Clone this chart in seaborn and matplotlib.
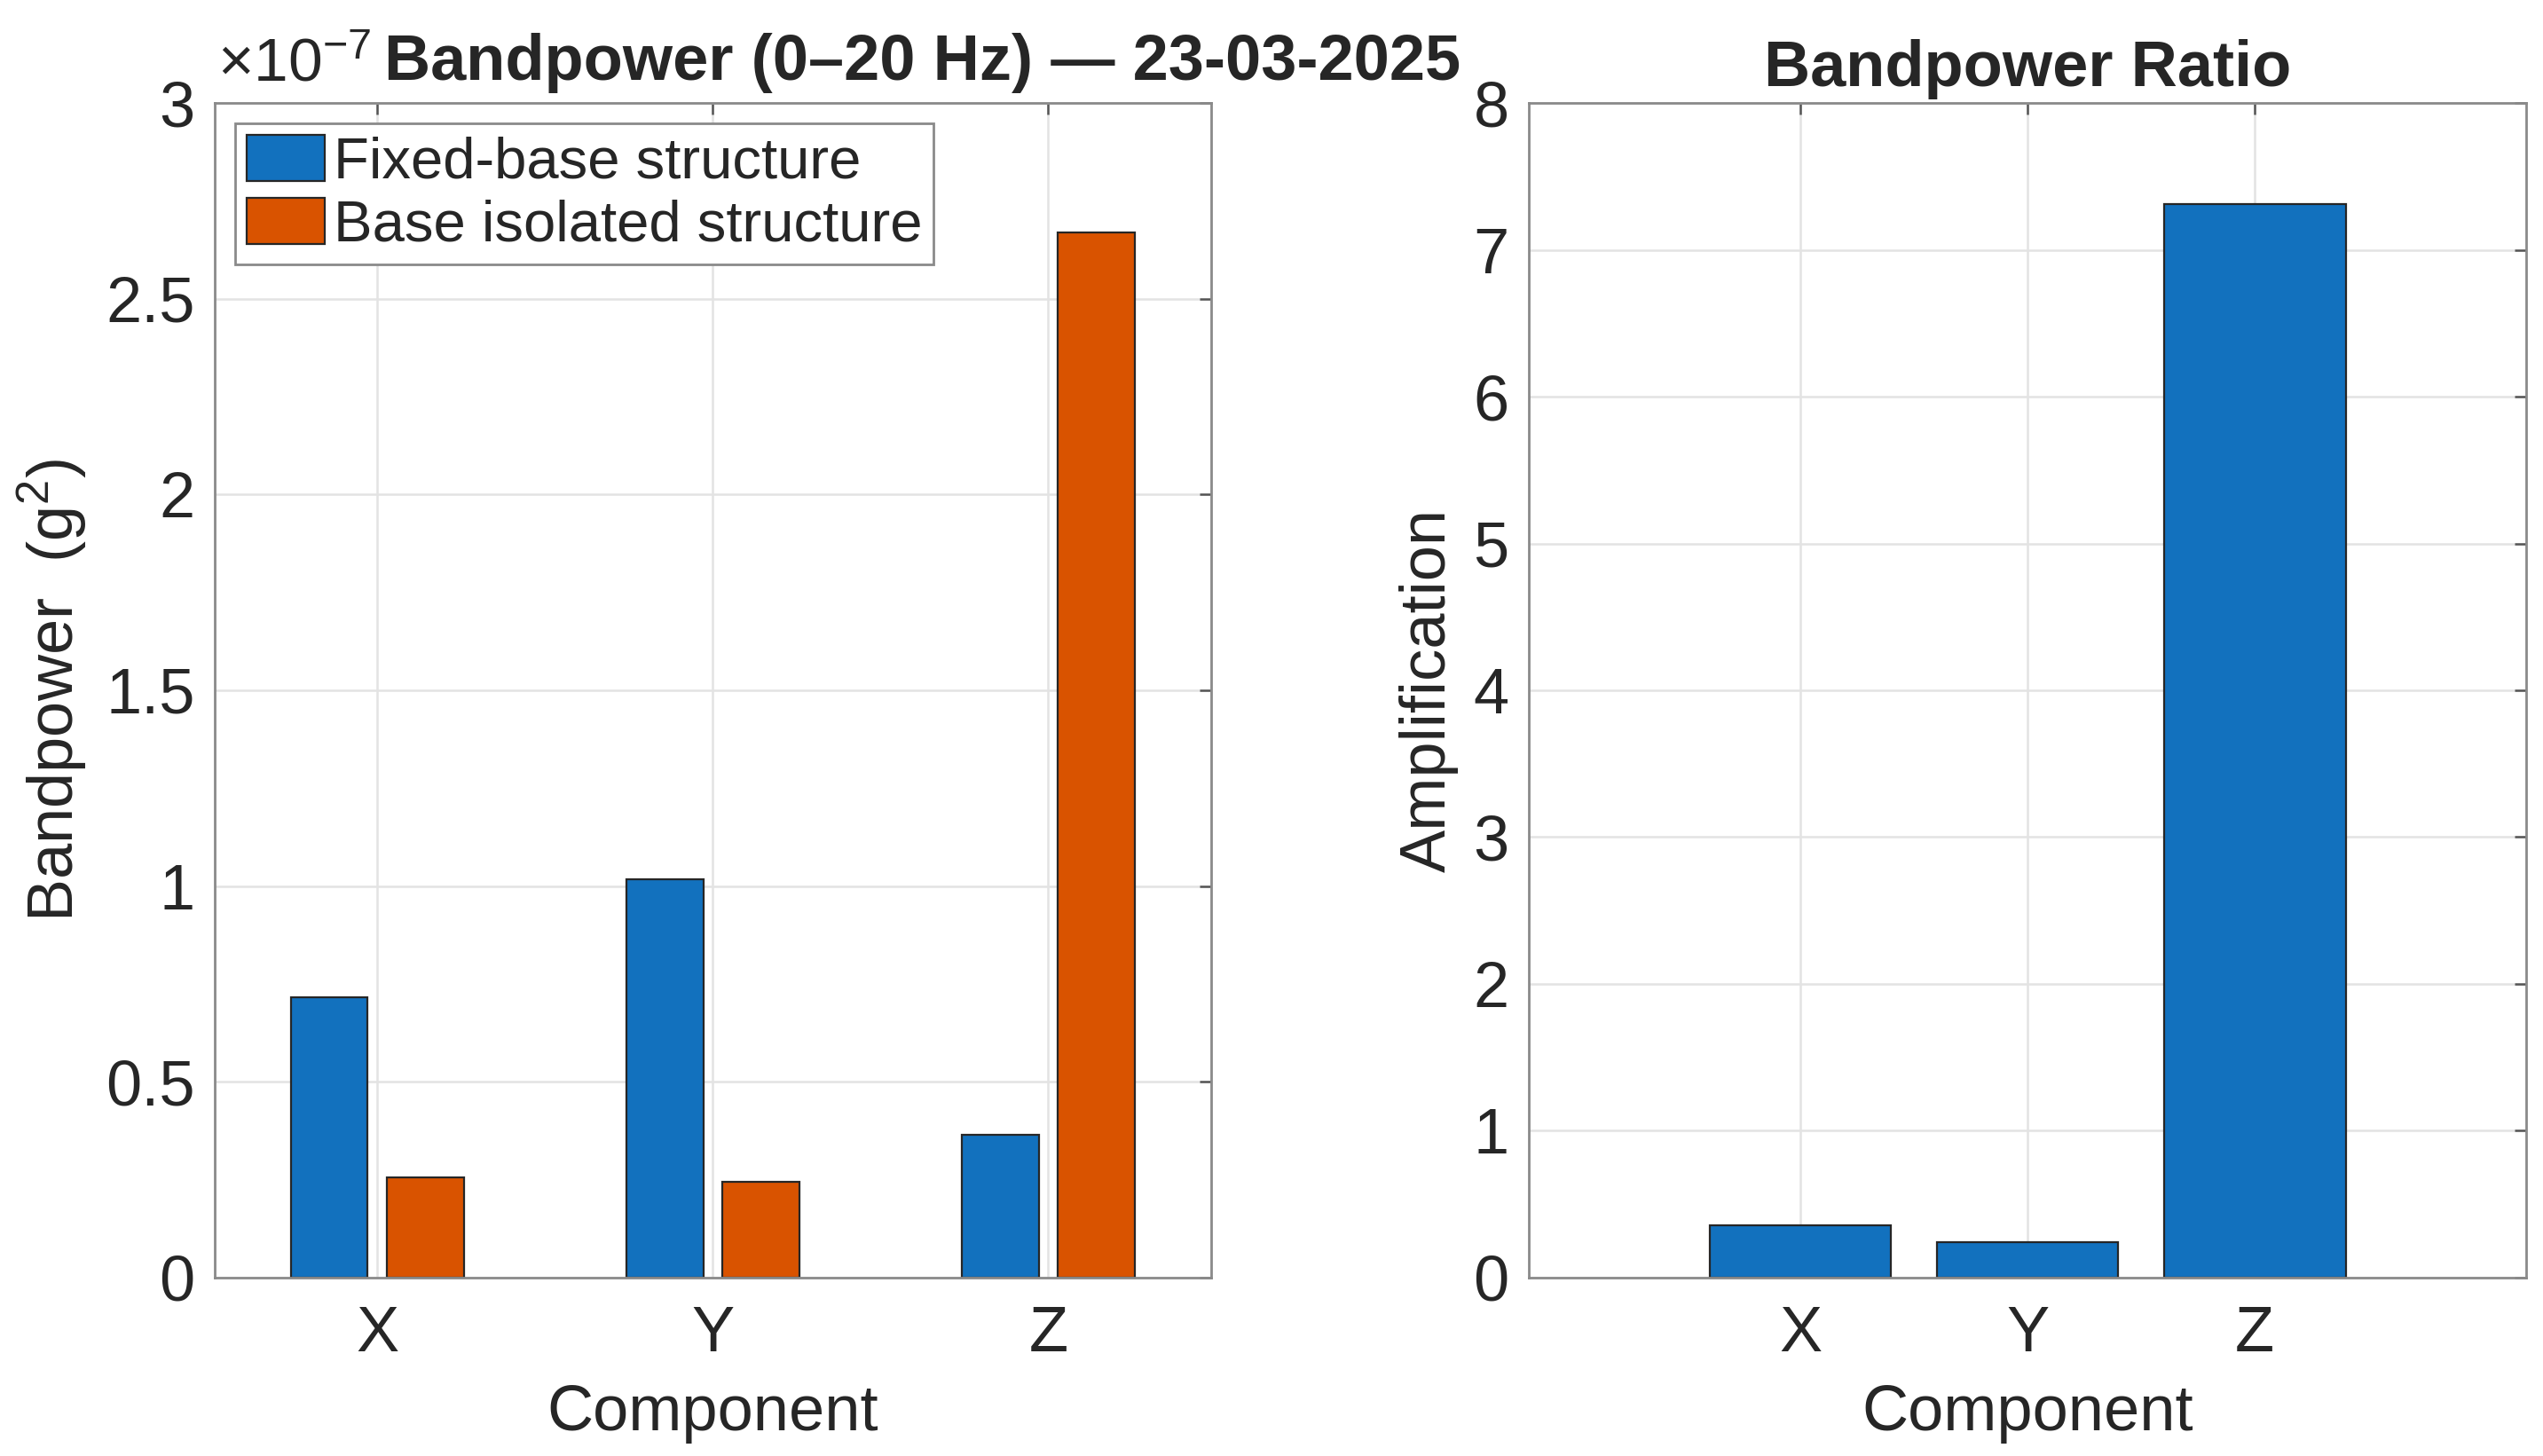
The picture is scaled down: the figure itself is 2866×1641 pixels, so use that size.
import matplotlib
matplotlib.use("Agg")
import matplotlib.pyplot as plt
import seaborn as sns
import pandas as pd
from matplotlib.patches import Patch
from matplotlib.ticker import FuncFormatter, MultipleLocator

components = ["X", "Y", "Z"]
fixed_base = [0.717e-7, 1.018e-7, 0.365e-7]
base_isolated = [0.257e-7, 0.244e-7, 2.669e-7]
ratio = [0.358, 0.240, 7.31]
series_names = ["Fixed-base structure", "Base isolated structure"]

BLUE = "#1271BE"
ORANGE = "#D95300"
TEXT = "#262626"
SPINE = "#8a8a8a"

sns.set_style("white")
plt.rcParams["font.family"] = ["Liberation Sans", "DejaVu Sans"]
plt.rcParams["mathtext.fontset"] = "custom"
plt.rcParams["mathtext.rm"] = "Liberation Sans"
plt.rcParams["mathtext.it"] = "Liberation Sans:italic"
plt.rcParams["mathtext.bf"] = "Liberation Sans:bold"

df = pd.DataFrame({
    "Component": components * 2,
    "Bandpower": fixed_base + base_isolated,
    "Structure": [series_names[0]] * 3 + [series_names[1]] * 3,
})
df_ratio = pd.DataFrame({"Component": components, "Ratio": ratio})

fig = plt.figure(figsize=(14.33, 8.205), dpi=200)
ax1 = fig.add_axes([0.0844, 0.1225, 0.3918, 0.8068])
ax2 = fig.add_axes([0.6012, 0.1225, 0.3922, 0.8068])

FS = 26

sns.barplot(data=df, x="Component", y="Bandpower", hue="Structure",
            palette=[BLUE, ORANGE], width=0.572, gap=0.2, saturation=1,
            edgecolor=TEXT, linewidth=0.8, legend=False, ax=ax1)
sns.barplot(data=df_ratio, x="Component", y="Ratio", color=BLUE, saturation=1,
            width=0.8, edgecolor=TEXT, linewidth=0.8, ax=ax2)

for ax in (ax1, ax2):
    ax.set_axisbelow(True)
    ax.grid(True, color="#e3e3e3", linewidth=0.9)
    for s in ax.spines.values():
        s.set_visible(True)
        s.set_color(SPINE)
        s.set_linewidth(1.0)
    ax.tick_params(axis="both", which="major", direction="in", top=True, right=True,
                   length=4.7, width=0.9, color="#555555", labelsize=FS,
                   labelcolor=TEXT)
    ax.tick_params(axis="y", pad=8)
    ax.tick_params(axis="x", pad=11)
    ax.set_xlabel("Component", fontsize=FS, color=TEXT, labelpad=8)

ax1.set_xlim(-0.485, 2.485)
ax1.set_ylim(0, 3e-7)
ax1.yaxis.set_major_locator(MultipleLocator(0.5e-7))
ax1.yaxis.set_major_formatter(FuncFormatter(lambda v, p: f"{v / 1e-7:g}"))
ax1.set_ylabel("Bandpower  (g$^2$)", fontsize=FS, color=TEXT, labelpad=7)
ax1.text(0.003, 1.008, r"$\times$10$^{-7}$", transform=ax1.transAxes,
         fontsize=FS - 1, color=TEXT, ha="left", va="bottom")
ax1.text(0.71, 1.008, "Bandpower (0–20 Hz) — 23-03-2025", transform=ax1.transAxes,
         fontsize=FS, fontweight="bold", color=TEXT, ha="center", va="bottom")

handles = [Patch(facecolor=BLUE, edgecolor=TEXT, linewidth=0.8),
           Patch(facecolor=ORANGE, edgecolor=TEXT, linewidth=0.8)]
leg = ax1.legend(handles, series_names, loc="upper left", fontsize=23.5,
                 handlelength=1.35, handleheight=0.85, handletextpad=0.15,
                 labelspacing=0.15, borderpad=0.2, borderaxespad=0.35,
                 fancybox=False, framealpha=1)
leg.get_frame().set_edgecolor(SPINE)
leg.get_frame().set_linewidth(1.0)
for t in leg.get_texts():
    t.set_color(TEXT)

ax2.set_xlim(-1.195, 3.195)
ax2.set_ylim(0, 8)
ax2.yaxis.set_major_locator(MultipleLocator(1))
ax2.set_ylabel("Amplification", fontsize=FS, color=TEXT, labelpad=6)
ax2.set_title("Bandpower Ratio", fontsize=FS, fontweight="bold", color=TEXT, pad=7)

fig.savefig("out.png", dpi=200)
